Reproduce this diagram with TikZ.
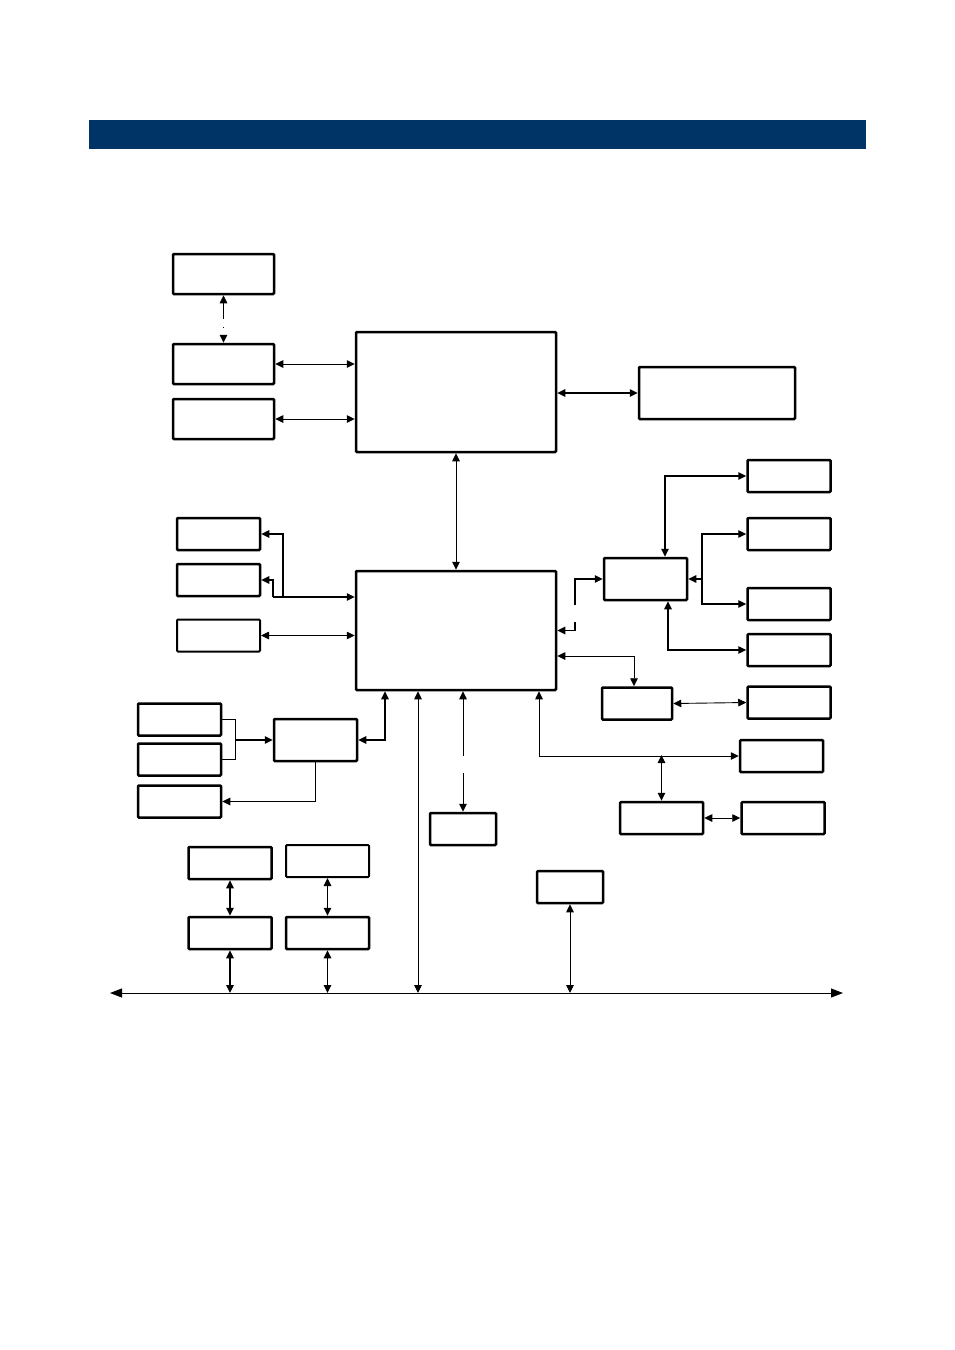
\documentclass[tikz,border=0pt]{standalone}
\usepackage{tikz}
\usetikzlibrary{arrows.meta, positioning, calc}
\usepackage{xcolor}
\definecolor{ink}{HTML}{000000}
\definecolor{hdr}{HTML}{003466}
\tikzset{
  bx/.style={draw=ink, line width=2.5pt, fill=white, inner sep=0pt, rounded corners=1pt},
  sb/.style={bx, minimum width=83pt, minimum height=32pt},
  wb/.style={bx, minimum width=101pt, minimum height=40pt},
  tb/.style={bx, minimum width=83pt, minimum height=42pt},
  ln/.style={{Triangle[length=8pt,width=7.5pt]}-{Triangle[length=8pt,width=7.5pt]}, line width=0.9pt, draw=ink},
  lnb/.style={ln, line width=1.5pt},
  ar/.style={-{Triangle[length=8pt,width=7.5pt]}, line width=1.4pt, draw=ink},
  wire/.style={draw=ink, line width=1pt},
}
\begin{document}
\begin{tikzpicture}[x=1pt, y=-1pt]
\useasboundingbox (0,0) rectangle (955,1350);
\node[fill=hdr, minimum width=777pt, minimum height=29pt, inner sep=0pt] (bar) at (477.5,134.5) {};

% top block
\node[wb] (A1) at (223.5,274) {};
\node[wb] (A2) at (223.5,364) {};
\node[wb] (A3) at (223.5,419) {};
\node[bx, minimum width=200pt, minimum height=120pt] (N) at (456,392) {};
\node[bx, minimum width=156pt, minimum height=52pt] (R) at (717,393) {};
\node[bx, minimum width=200pt, minimum height=119pt] (S) at (456,630.5) {};

% left of S
\node[sb] (L1) at (218.5,534) {};
\node[sb] (L2) at (218.5,580) {};
\node[sb, line width=2pt] (L3) at (218.5,635.5) {};

% right hub
\node[tb] (H) at (645.5,579) {};
\node[sb] (R1) at (789,476) {};
\node[sb] (R2) at (789,534) {};
\node[sb] (R3) at (789,604) {};
\node[sb] (R4) at (789,650) {};
\node[sb] (R5) at (789,702.5) {};
\node[sb, minimum width=70pt] (M1) at (637,703.5) {};
\node[sb] (R6) at (781.5,756) {};
\node[sb] (M2) at (661.5,818) {};
\node[sb] (R7) at (783,818) {};

% below S
\node[sb, minimum width=66pt] (C1) at (463,829) {};
\node[sb, minimum width=66pt] (C2) at (570,887) {};

% lower left
\node[tb] (LL) at (315.5,740) {};
\node[sb] (LL1) at (179.5,719.5) {};
\node[sb] (LL2) at (179.5,759.5) {};
\node[sb] (LL3) at (179.5,801.5) {};
\node[sb] (B1) at (230,863) {};
\node[sb, line width=2pt] (B2) at (327.5,861) {};
\node[sb] (B3) at (230,933) {};
\node[sb] (B4) at (327.5,933) {};

% bus ends and joints
\coordinate (busL) at (110,993);
\coordinate (busR) at (843,993);
\coordinate (jA) at (283,597);
\coordinate (jB) at (273,597);
\coordinate (jC) at (385,740);
\coordinate (jD) at (235,740);
\coordinate (jE) at (418,993);
\coordinate (jF) at (539,755);
\coordinate (jG) at (634,656);
\coordinate (jH) at (575,622);
\coordinate (jI) at (575,605);
\coordinate (jJ) at (665,476);
\coordinate (jK) at (702,579);
\coordinate (jL) at (668,650);

\draw[ln, dash pattern=on 16pt off 8pt on 1pt off 8pt] (A1.south) -- (A2.north);
\draw[ln] (A2.east) -- (A2.east -| N.west);
\draw[ln] (A3.east) -- (A3.east -| N.west);
\draw[lnb] (N.east |- R.west) -- (R.west);
\draw[ln] (N.south) -- (S.north);

\draw[ar] (jA) |- (L1.east);
\draw[ar] (jB) |- (L2.east);
\draw[ar] (jB) -- (jB -| S.west);
\draw[ln] (L3.east) -- (L3.east -| S.west);

\draw[lnb] (S.south -| jC) |- (LL.east);
\draw[wire] (LL1.east) -| (jD |- LL2.east) -- (LL2.east);
\draw[ar] (jD) -- (LL.west);
\draw[ar, line width=1pt] (LL.south) |- (LL3.east);

\draw[ln, {Triangle[length=12pt,width=9pt]}-{Triangle[length=12pt,width=9pt]}] (busL) -- (busR);
\draw[ln] (S.south -| jE) -- (jE);
\draw[ln, dash pattern=on 57pt off 17pt on 60pt] (S.south -| C1.north) -- (C1.north);
\draw[ln] (C2.south) -- (C2.south |- busL);
\draw[lnb] (B1.south) -- (B3.north);
\draw[lnb] (B3.south) -- (B3.south |- busL);
\draw[lnb] (B2.south) -- (B4.north);
\draw[lnb] (B4.south) -- (B4.south |- busL);

\draw[ln] (S.south -| jF) |- (R6.west);
\draw[lnb] (jF -| M2.north) -- (M2.north);
\draw[ln] (M2.east) -- (R7.west);
\draw[ln] (M1.east) -- (R5.west);
\draw[ln] (S.east |- jG) -| (jG |- M1.north);
\draw[ar] (jH) |- (S.east);
\draw[ar] (jI) |- (H.west);
\draw[lnb] (H.north -| jJ) |- (R1.west);
\draw[ar] (jK) -- (H.east);
\draw[ar] (jK) |- (R2.west);
\draw[ar] (jK) |- (R3.west);
\draw[lnb] (H.south -| jL) |- (R4.west);
\end{tikzpicture}
\end{document}
